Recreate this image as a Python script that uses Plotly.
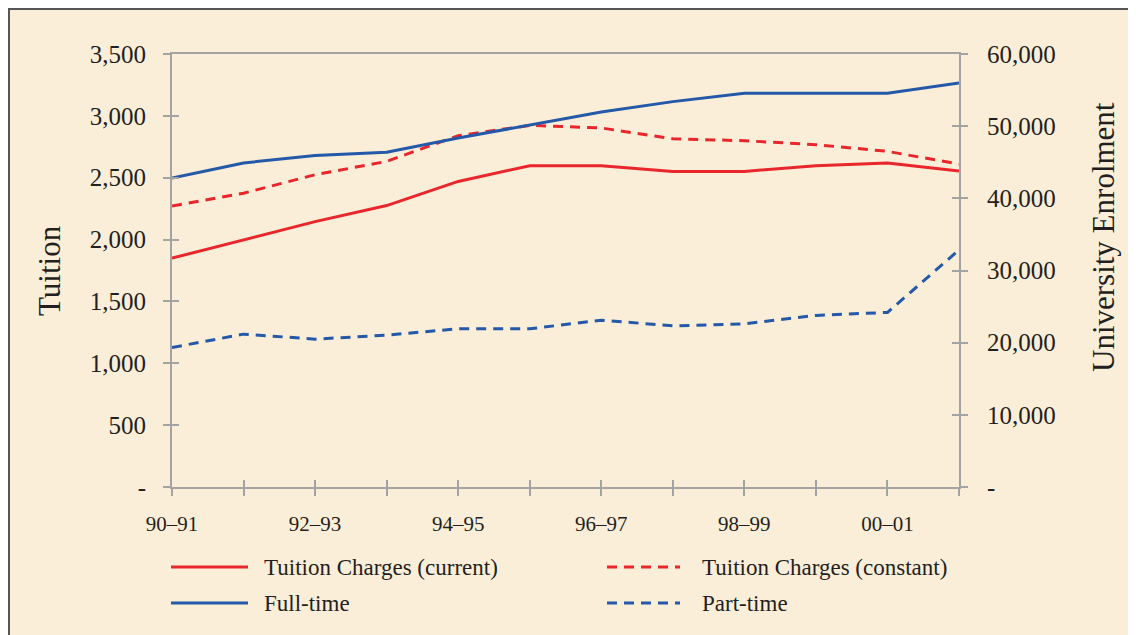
import plotly.graph_objects as go

# ---------------- data ----------------
categories = ["90–91", "91–92", "92–93", "93–94", "94–95", "95–96",
              "96–97", "97–98", "98–99", "99–00", "00–01", "01–02"]
tuition_current = [1850, 2000, 2145, 2275, 2470, 2597, 2597, 2551, 2551, 2597, 2618, 2554]
tuition_constant = [2272, 2375, 2524, 2632, 2840, 2923, 2902, 2815, 2799, 2767, 2713, 2610]
full_time = [42800, 44900, 45950, 46400, 48350, 50170, 51970, 53400, 54550, 54550, 54550, 56000]
part_time = [19330, 21180, 20490, 21040, 21920, 21920, 23120, 22330, 22610, 23780, 24190, 32850]

series_names = ["Tuition Charges (current)", "Tuition Charges (constant)", "Full-time", "Part-time"]
left_ticks = [0, 500, 1000, 1500, 2000, 2500, 3000, 3500]
right_ticks = [0, 10000, 20000, 30000, 40000, 50000, 60000]

# ---------------- styling ----------------
OFF = 8  # page body margin
W, H = 1128, 627
# plot area in window pixels
PL, PR, PT, PB = 172, 959, 54, 487
L, R, T, B = PL - OFF, PR - OFF, PT - OFF, PB - OFF
RED = "#E8262B"
BLUE = "#2359A8"
AXIS = "#A3A3A3"
TEXT = "#231F20"
FONT = "Liberation Serif"
DASH = "10px,7px"


def fx(px):
    return (px - PL) / (PR - PL)


def fy(py):
    return (PB - py) / (PB - PT)


def fmt(v):
    return "-" if v == 0 else f"{v:,}"


series = [
    (series_names[0], tuition_current, RED, "solid", "y"),
    (series_names[1], tuition_constant, RED, DASH, "y"),
    (series_names[2], full_time, BLUE, "solid", "y2"),
    (series_names[3], part_time, BLUE, DASH, "y2"),
]

fig = go.Figure()
for name, vals, col, dash, yax in series:
    fig.add_trace(go.Scatter(x=categories, y=vals, name=name, mode="lines",
                             line=dict(color=col, width=3, dash=dash),
                             yaxis=yax, showlegend=False))

# invisible helper traces so the inside-tick overlay axes render
fig.add_trace(go.Scatter(x=[None], y=[None], xaxis="x2", yaxis="y3", showlegend=False, hoverinfo="skip"))
fig.add_trace(go.Scatter(x=[None], y=[None], xaxis="x2", yaxis="y4", showlegend=False, hoverinfo="skip"))

xt = [c if i % 2 == 0 else "" for i, c in enumerate(categories)]
xrange = [0, len(categories) - 1]
lrange = [0, left_ticks[-1]]
rrange = [0, right_ticks[-1]]

common_tick = dict(tickcolor=AXIS, tickwidth=2, ticklen=7, showgrid=False, zeroline=False)

fig.update_layout(
    width=W, height=H,
    margin=dict(l=L, r=W - R, t=T, b=H - B),
    paper_bgcolor="white",
    plot_bgcolor="#F3F3D5",
    font=dict(family=FONT, color=TEXT),
    xaxis=dict(type="category", categoryorder="array", categoryarray=categories,
               range=xrange, tickmode="array", tickvals=categories, ticktext=xt,
               ticks="outside", showline=True, linecolor=AXIS, linewidth=2, mirror=True,
               tickfont=dict(size=21, family=FONT, color=TEXT), ticklabelstandoff=10,
               **common_tick),
    xaxis2=dict(type="category", categoryorder="array", categoryarray=categories,
                range=xrange, overlaying="x", side="bottom", tickmode="array",
                tickvals=categories, ticks="inside", showticklabels=False,
                showline=False, **common_tick),
    yaxis=dict(range=lrange, tickmode="array", tickvals=left_ticks,
               ticktext=[fmt(v) for v in left_ticks], ticks="outside",
               showline=True, linecolor=AXIS, linewidth=2,
               tickfont=dict(size=25, family=FONT, color=TEXT), ticklabelstandoff=12,
               **common_tick),
    yaxis2=dict(range=rrange, tickmode="array", tickvals=right_ticks,
                ticktext=[fmt(v) for v in right_ticks], ticks="outside",
                overlaying="y", side="right", showline=True, linecolor=AXIS, linewidth=2,
                tickfont=dict(size=25, family=FONT, color=TEXT), ticklabelstandoff=14,
                **common_tick),
    yaxis3=dict(range=lrange, tickmode="array", tickvals=left_ticks, ticks="inside",
                overlaying="y", side="left", showticklabels=False, showline=False,
                **common_tick),
    yaxis4=dict(range=rrange, tickmode="array", tickvals=right_ticks, ticks="inside",
                overlaying="y", side="right", showticklabels=False, showline=False,
                **common_tick),
    showlegend=False,
)

# parchment frame behind everything
fig.add_shape(type="rect", xref="paper", yref="paper",
              x0=fx(9), x1=fx(1131), y0=fy(660), y1=fy(9),
              fillcolor="#FBEED8", line=dict(color="#555555", width=2), layer="below")

# axis titles
fig.add_annotation(xref="paper", yref="paper", x=fx(49), y=fy(271), text="Tuition",
                   textangle=-90, showarrow=False, font=dict(size=31, family=FONT, color=TEXT),
                   xanchor="center", yanchor="middle")
fig.add_annotation(xref="paper", yref="paper", x=fx(1103), y=fy(237), text="University Enrolment",
                   textangle=-90, showarrow=False, font=dict(size=31, family=FONT, color=TEXT),
                   xanchor="center", yanchor="middle")

# custom legend (2 columns)
leg_rows = [567, 603]
leg_cols = [(171, 248, 262), (607, 680, 700)]
for i, (name, vals, col, dash, yax) in enumerate(series):
    r, c = divmod(i, 2)
    x0, x1, xt0 = leg_cols[c]
    yy = fy(leg_rows[r])
    fig.add_shape(type="line", xref="paper", yref="paper", x0=fx(x0), x1=fx(x1), y0=yy, y1=yy,
                  line=dict(color=col, width=3, dash=dash))
    fig.add_annotation(xref="paper", yref="paper", x=fx(xt0), y=yy, text=name, showarrow=False,
                       xanchor="left", yanchor="middle", font=dict(size=23, family=FONT, color=TEXT))

fig.write_html("out.html")
